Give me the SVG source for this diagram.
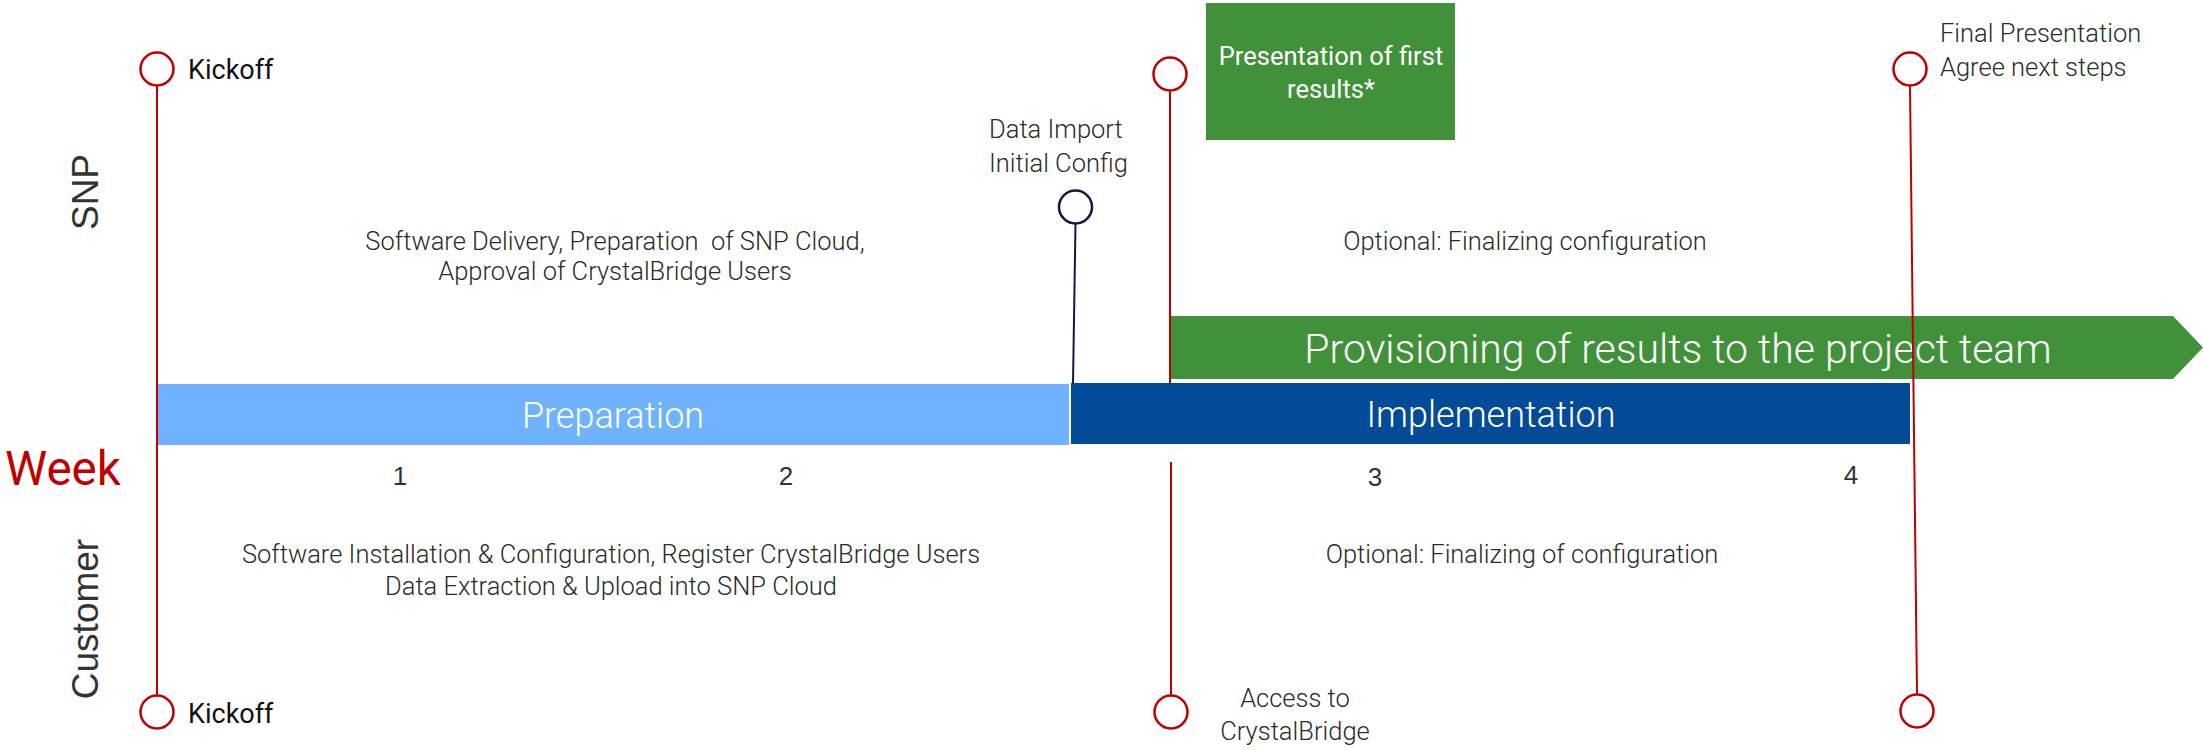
<svg xmlns="http://www.w3.org/2000/svg" width="2203" height="750" viewBox="0 0 2203 750">
<style>
  .bg { fill: #ffffff; }
  .ms { fill: #ffffff; stroke: #C00000; stroke-width: 2.5; }
  .ms-navy { fill: #ffffff; stroke: #101a40; stroke-width: 2.5; }
  .line { stroke: #C00000; stroke-width: 2; fill: none; }
  .line-navy { stroke: #101a40; stroke-width: 2; fill: none; }
  .t { font-family: Roboto, "Liberation Sans", sans-serif; font-weight: 300; fill: #2b2b2b; font-size: 25.5px; }
  .kick { font-family: Roboto, "Liberation Sans", sans-serif; font-weight: 400; fill: #111111; font-size: 27px; }
  .lane { font-family: "Liberation Sans", Arial, sans-serif; fill: #333333; font-size: 37px; }
  .num { font-family: "Liberation Sans", Arial, sans-serif; fill: #333333; font-size: 26px; text-anchor: middle; }
  .bar-t { font-family: Roboto, "Liberation Sans", sans-serif; font-weight: 300; fill: #ffffff; text-anchor: middle; }
  .mid { text-anchor: middle; }
</style>
<rect class="bg" x="0" y="0" width="2203" height="750"/>

<g id="lane-labels">
  <text class="lane" text-anchor="middle" transform="translate(98,192) rotate(-90)">SNP</text>
  <text class="lane" text-anchor="middle" transform="translate(98,619) rotate(-90)">Customer</text>
  <text x="5" y="485" font-family="Roboto, 'Liberation Sans', sans-serif" font-size="47.5" fill="#C00000">Week</text>
</g>

<g id="phase-preparation">
  <rect x="158" y="384" width="911" height="61" fill="#6FB2FD"/>
  <text class="bar-t" x="613" y="428" font-size="36">Preparation</text>
</g>
<g id="phase-implementation">
  <rect x="1071" y="383" width="839" height="61" fill="#034B99"/>
  <text class="bar-t" x="1491" y="427" font-size="36">Implementation</text>
</g>
<g id="phase-provisioning">
  <polygon points="1170,316 2173,316 2203,347.5 2173,379 1170,379" fill="#40913A"/>
  <text class="bar-t" x="1678" y="363" font-size="41">Provisioning of results to the project team</text>
</g>

<g id="connectors">
  <line class="line" x1="157" y1="86" x2="157" y2="695"/>
  <line class="line-navy" x1="1075.5" y1="224" x2="1073" y2="384"/>
  <line class="line" x1="1170" y1="91" x2="1170" y2="383"/>
  <line class="line" x1="1171" y1="462" x2="1171" y2="695"/>
  <line class="line" x1="1910" y1="86" x2="1917" y2="694"/>
</g>

<g id="week-numbers">
  <text class="num" x="400" y="485">1</text>
  <text class="num" x="786" y="485">2</text>
  <text class="num" x="1375" y="486">3</text>
  <text class="num" x="1851" y="484">4</text>
</g>

<g id="milestone-kickoff-snp">
  <circle class="ms" cx="157" cy="69" r="16.5"/>
  <text class="kick" x="188" y="79">Kickoff</text>
</g>
<g id="milestone-kickoff-customer">
  <circle class="ms" cx="157" cy="712" r="16.5"/>
  <text class="kick" x="188" y="723">Kickoff</text>
</g>
<g id="milestone-data-import">
  <circle class="ms-navy" cx="1075.5" cy="207" r="16.5"/>
  <text class="t" x="989" y="138" font-size="25">Data Import</text>
  <text class="t" x="989" y="172" font-size="25">Initial Config</text>
</g>
<g id="milestone-first-results">
  <circle class="ms" cx="1170" cy="74" r="16.5"/>
  <rect x="1206" y="3" width="249" height="137" fill="#40913A"/>
  <text x="1331" y="65" text-anchor="middle" font-family="Roboto, 'Liberation Sans', sans-serif" font-weight="400" font-size="25.5" fill="#ffffff">Presentation of first</text>
  <text x="1331" y="98" text-anchor="middle" font-family="Roboto, 'Liberation Sans', sans-serif" font-weight="400" font-size="25.5" fill="#ffffff">results*</text>
</g>
<g id="milestone-access">
  <circle class="ms" cx="1171" cy="712" r="16.5"/>
  <text class="t mid" x="1295" y="707" font-size="26.5">Access to</text>
  <text class="t mid" x="1295" y="740" font-size="26.5">CrystalBridge</text>
</g>
<g id="milestone-final-snp">
  <circle class="ms" cx="1910" cy="69" r="16.5"/>
  <text class="t" x="1940" y="42" font-size="28.5">Final Presentation</text>
  <text class="t" x="1940" y="76" font-size="28.5">Agree next steps</text>
</g>
<g id="milestone-final-customer">
  <circle class="ms" cx="1917" cy="711" r="16.5"/>
</g>

<g id="task-snp-preparation">
  <text class="t mid" x="615" y="250" xml:space="preserve">Software Delivery, Preparation  of SNP Cloud,</text>
  <text class="t mid" x="615" y="280">Approval of CrystalBridge Users</text>
</g>
<g id="task-customer-preparation">
  <text class="t mid" x="611" y="563" font-size="25.2">Software Installation &amp; Configuration, Register CrystalBridge Users</text>
  <text class="t mid" x="611" y="595" font-size="25.2">Data Extraction &amp; Upload into SNP Cloud</text>
</g>
<g id="task-snp-implementation">
  <text class="t mid" x="1525" y="250">Optional: Finalizing configuration</text>
</g>
<g id="task-customer-implementation">
  <text class="t mid" x="1522" y="563">Optional: Finalizing of configuration</text>
</g>
</svg>
